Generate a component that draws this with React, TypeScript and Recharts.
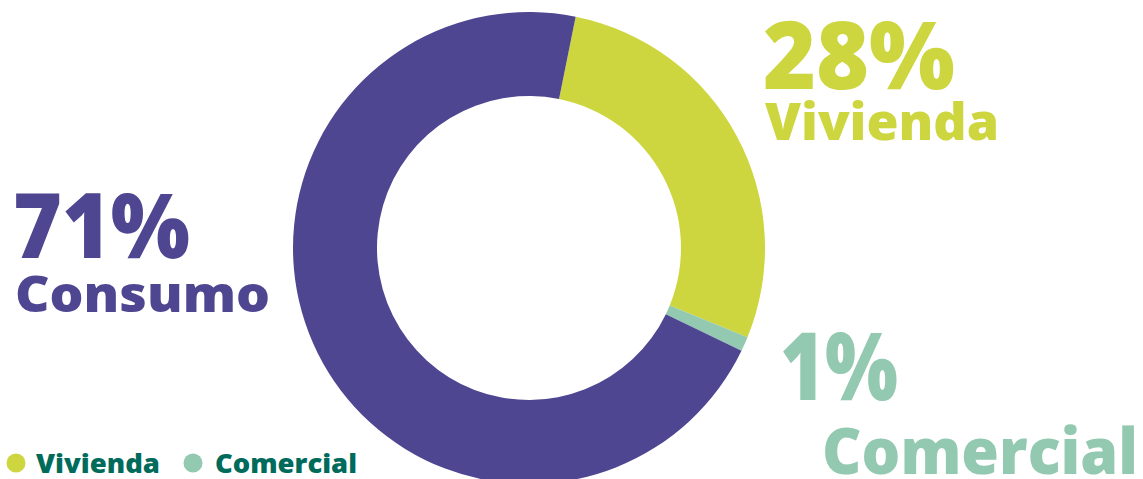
import { PieChart, Pie, Cell, Legend } from "recharts";

const categories = ["Vivienda", "Comercial", "Consumo"];
const shares = [28, 1, 71];
const colors = ["#cdd63e", "#93c9b0", "#4e4691"];
const legendNames = ["Vivienda", "Comercial"];

const data = categories.map((name, i) => ({ name, value: shares[i] }));

const font = "'Open Sans', 'DejaVu Sans', sans-serif";

// where each big label sits (pixel layout, not data)
const labelLayout: Record<
  string,
  { x: number; y1: number; y2: number; s1: number; s2: number; w1: number; w2: number; x2?: number }
> = {
  Vivienda: { x: 763, y1: 89, y2: 140, s1: 94, s2: 52, w1: 192, w2: 234 },
  Comercial: { x: 780, x2: 822, y1: 400, y2: 474, s1: 94, s2: 64, w1: 118, w2: 316 },
  Consumo: { x: 13, y1: 258, y2: 312, s1: 90, s2: 49, w1: 177, w2: 255 },
};

// legend item layout: dot centre x, text start x, text width
const legendLayout = [
  { dot: 16, tx: 36, w: 124 },
  { dot: 193, tx: 215, w: 142 },
];

const renderLabel = (props: any) => {
  const l = labelLayout[props.name];
  if (!l) return null;
  const fill = colors[categories.indexOf(props.name)];
  return (
    <g>
      <text
        x={l.x}
        y={l.y1}
        fill={fill}
        fontFamily={font}
        fontWeight={800}
        fontSize={l.s1}
        textLength={l.w1}
        lengthAdjust="spacingAndGlyphs"
      >
        {props.value}%
      </text>
      <text
        x={l.x2 ?? l.x + 2}
        y={l.y2}
        fill={fill}
        fontFamily={font}
        fontWeight={800}
        fontSize={l.s2}
        textLength={l.w2}
        lengthAdjust="spacingAndGlyphs"
      >
        {props.name}
      </text>
    </g>
  );
};

const renderLegend = () => (
  <svg width={400} height={39} style={{ display: "block" }}>
    {legendNames.map((name, i) => (
      <g key={name}>
        <circle cx={legendLayout[i].dot} cy={23} r={9.5} fill={colors[categories.indexOf(name)]} />
        <text
          x={legendLayout[i].tx}
          y={33}
          fill="#006b5b"
          fontFamily={font}
          fontWeight={800}
          fontSize={26}
          textLength={legendLayout[i].w}
          lengthAdjust="spacingAndGlyphs"
        >
          {name}
        </text>
      </g>
    ))}
  </svg>
);

export default function App() {
  return (
    <div style={{ position: "absolute", left: 0, top: 0, background: "#fff" }}>
      <PieChart width={1143} height={479}>
        <Pie
          data={data}
          dataKey="value"
          nameKey="name"
          cx={524}
          cy={243}
          innerRadius={152}
          outerRadius={236}
          startAngle={78.6}
          endAngle={-281.4}
          stroke="none"
          label={renderLabel}
          labelLine={false}
          isAnimationActive={false}
        >
          {data.map((_, i) => (
            <Cell key={i} fill={colors[i]} />
          ))}
        </Pie>
        <Legend
          content={renderLegend}
          wrapperStyle={{ position: "absolute", left: 0, top: 440, width: 400 }}
        />
      </PieChart>
    </div>
  );
}
